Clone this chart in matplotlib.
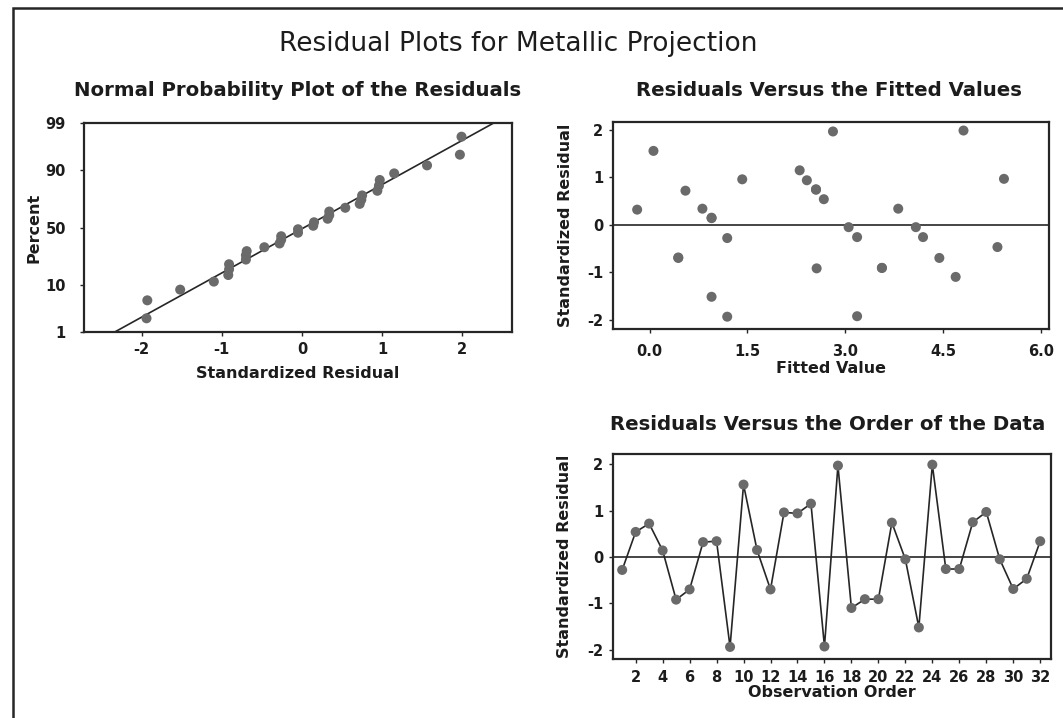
import numpy as np
import matplotlib
matplotlib.use("Agg")
import matplotlib.pyplot as plt
from matplotlib.patches import Rectangle
from statistics import NormalDist

plt.rcParams['font.family'] = ['DejaVu Sans']

# Standardized residuals in observation order
residuals = [-0.28, 0.54, 0.72, 0.14, -0.92, -0.70, 0.32, 0.34, -1.94, 1.56,
             0.15, -0.70, 0.96, 0.94, 1.15, -1.93, 1.97, -1.10, -0.91, -0.91,
             0.74, -0.05, -1.52, 1.99, -0.26, -0.26, 0.75, 0.97, -0.05, -0.69,
             -0.47, 0.34]
# Fitted values for each observation
fitted = [1.19, 2.67, 0.55, 0.95, 2.56, 0.44, -0.19, 0.81, 1.19, 0.06,
          0.95, 4.44, 1.42, 2.41, 2.30, 3.18, 2.81, 4.69, 3.56, 3.56,
          2.55, 3.05, 0.95, 4.81, 3.18, 4.19, 2.55, 5.43, 4.08, 0.44,
          5.33, 3.81]
observation = list(range(1, len(residuals) + 1))

pct_ticks = [1, 10, 50, 90, 99]
fit_ticks = [0.0, 1.5, 3.0, 4.5, 6.0]
resid_ticks = [-2, -1, 0, 1, 2]
order_ticks = list(range(2, 33, 2))
npp_xticks = [-2, -1, 0, 1, 2]

W, H = 1063, 718
fig = plt.figure(figsize=(W / 100, H / 100), dpi=100)
fig.patch.set_facecolor('white')

PT_COLOR = '#6a6a6a'
LINE_COLOR = '#262626'
TXT = '#1c1c1c'
MS = 52


def px_axes(l, t, r, b):
    return fig.add_axes([l / W, 1 - b / H, (r - l) / W, (b - t) / H])


def style(ax, xpad, ypad):
    for s in ax.spines.values():
        s.set_linewidth(1.6)
        s.set_color(LINE_COLOR)
    ax.tick_params(direction='out', length=3, width=1.0, color=LINE_COLOR,
                   labelsize=10.5, labelcolor=TXT)
    ax.tick_params(axis='x', pad=xpad)
    ax.tick_params(axis='y', pad=ypad)
    for lab in ax.get_xticklabels() + ax.get_yticklabels():
        lab.set_fontweight('bold')


def labels(ax, xlab, ylab, xy, yx):
    ax.set_xlabel(xlab, fontsize=11.5, fontweight='bold', color=TXT, va='center')
    ax.set_ylabel(ylab, fontsize=11.5, fontweight='bold', color=TXT, va='center')
    ax.xaxis.set_label_coords(0.5, xy)
    ax.yaxis.set_label_coords(yx, 0.5)


nd = NormalDist()
_inv = np.vectorize(lambda v: nd.inv_cdf(v / 100.0), otypes=[float])
_cdf = np.vectorize(lambda v: nd.cdf(v) * 100.0, otypes=[float])


def to_z(p):
    p = np.clip(np.asarray(p, dtype=float), 1e-6, 100 - 1e-6)
    return _inv(p)


def from_z(z):
    return _cdf(np.asarray(z, dtype=float))


# Normal probability plot
ax1 = px_axes(84, 123, 512, 332)
r = np.array(residuals)
n = len(r)
sorted_r = np.sort(r)
ranks = np.arange(1, n + 1)
plot_pct = (ranks - 0.3) / (n + 0.4) * 100
ax1.set_yscale('function', functions=(to_z, from_z))
mu, sd = r.mean(), r.std(ddof=1)
zline = np.array([nd.inv_cdf(0.001), nd.inv_cdf(0.999)])
ax1.plot(mu + sd * zline, from_z(zline), color=LINE_COLOR, lw=1.2, zorder=2)
ax1.scatter(sorted_r, plot_pct, s=MS, color=PT_COLOR, edgecolors='none', zorder=3)
ax1.set_ylim(1, 99)
ax1.set_xlim(-2.72, 2.62)
ax1.set_yticks(pct_ticks)
ax1.set_yticklabels([str(v) for v in pct_ticks])
ax1.minorticks_off()
ax1.set_xticks(npp_xticks)
ax1.set_xticklabels([str(v) for v in npp_xticks])
style(ax1, 4, 10)
labels(ax1, 'Standardized Residual', 'Percent', -0.198, -0.116)

# Residuals versus fitted values
ax2 = px_axes(613, 122, 1049, 329)
ax2.axhline(0, color=LINE_COLOR, lw=1.2, zorder=2)
ax2.scatter(fitted, residuals, s=MS, color=PT_COLOR, edgecolors='none', zorder=3)
ax2.set_xlim(-0.56, 6.12)
ax2.set_ylim(-2.2, 2.17)
ax2.set_xticks(fit_ticks)
ax2.set_xticklabels([f'{v:.1f}' for v in fit_ticks])
ax2.set_yticks(resid_ticks)
ax2.set_yticklabels([str(v) for v in resid_ticks])
style(ax2, 8, 4)
labels(ax2, 'Fitted Value', 'Standardized Residual', -0.19, -0.11)

# Residuals versus observation order
ax3 = px_axes(613, 454, 1051, 659)
ax3.axhline(0, color=LINE_COLOR, lw=1.2, zorder=2)
ax3.plot(observation, residuals, color=LINE_COLOR, lw=1.2, zorder=3)
ax3.scatter(observation, residuals, s=MS, color=PT_COLOR, edgecolors='none', zorder=4)
ax3.set_xlim(0.32, 32.8)
ax3.set_ylim(-2.2, 2.22)
ax3.set_xticks(order_ticks)
ax3.set_xticklabels([str(v) for v in order_ticks])
ax3.set_yticks(resid_ticks)
ax3.set_yticklabels([str(v) for v in resid_ticks])
style(ax3, 5, 4)
labels(ax3, 'Observation Order', 'Standardized Residual', -0.165, -0.11)

# Titles
fig.text(518 / W, 1 - 44 / H, 'Residual Plots for Metallic Projection',
         ha='center', va='center', fontsize=19, color=TXT)
fig.text(298 / W, 1 - 90 / H, 'Normal Probability Plot of the Residuals',
         ha='center', va='center', fontsize=14.2, fontweight='bold', color=TXT)
fig.text(829 / W, 1 - 90 / H, 'Residuals Versus the Fitted Values',
         ha='center', va='center', fontsize=14.2, fontweight='bold', color=TXT)
fig.text(828 / W, 1 - 424 / H, 'Residuals Versus the Order of the Data',
         ha='center', va='center', fontsize=14.2, fontweight='bold', color=TXT)

# Outer frame
fig.patches.append(Rectangle((13 / W, -0.05), 1.2, 1 - 8 / H + 0.05,
                             transform=fig.transFigure, fill=False,
                             edgecolor=LINE_COLOR, lw=1.8))

fig.savefig('out.png', dpi=100, facecolor='white')
